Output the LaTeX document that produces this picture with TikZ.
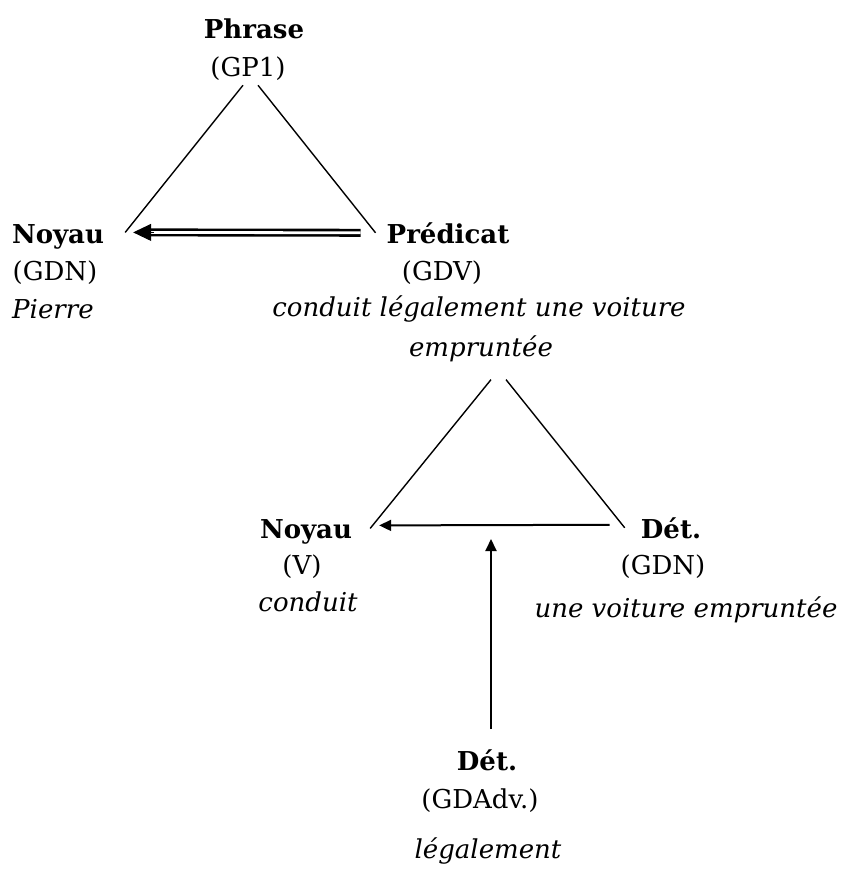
\documentclass[tikz,border=0pt]{standalone}
\usepackage{fontspec}
\setmainfont{DejaVu Serif}
\usetikzlibrary{arrows.meta}

\tikzset{
  lbl/.style={inner sep=0pt, anchor=base, font=\fontsize{26}{31}\selectfont},
  head/.style={lbl, font=\fontsize{26}{31}\selectfont\bfseries},
  ex/.style={lbl, font=\fontsize{26}{31}\selectfont\itshape},
  edge/.style={line width=1.4pt},
  rail/.style={double, double distance=2.8pt, line width=2.6pt},
  tip/.style={line width=1pt, -{Triangle[length=18pt,width=17pt]}},
  dep/.style={line width=2pt, -{Triangle[length=12pt,width=11pt]}}
}

\begin{document}
\begin{tikzpicture}
  [x=1pt, y=-1pt]
  \useasboundingbox (0,0) rectangle (847,869);
  % top level
  \node[head] (phrase) at (254,39) {Phrase};
  \node[lbl]  (gp) at (248,77) {(GP1)};
  \node[head] (noyau) at (58,243) {Noyau};
  \node[lbl]  (gdn) at (55,280) {(GDN)};
  \node[ex, anchor=base west] (pierre) at (12,318) {Pierre};
  \node[head] (predicat) at (448,243) {Prédicat};
  \node[lbl]  (gdv) at (442,280) {(GDV)};
  \node[ex]   (cgdv) at (479,316) {conduit légalement une voiture};
  \node[ex]   (cgdvb) at (481,356) {empruntée};
  % second level
  \node[head] (noyauv) at (306,538) {Noyau};
  \node[lbl]  (v) at (302,574) {(V)};
  \node[ex]   (conduit) at (308,611) {conduit};
  \node[head] (det) at (671,538) {Dét.};
  \node[lbl]  (gdn2) at (663,574) {(GDN)};
  \node[ex]   (voiture) at (686,617) {une voiture empruntée};
  \node[head] (detadv) at (487,770) {Dét.};
  \node[lbl]  (gdadv) at (480,808) {(GDAdv.)};
  \node[ex]   (legal) at (488,858) {légalement};
  \coordinate (mid) at (491,539);
  % triangles
  \draw[edge] ([xshift=-5pt,yshift=-4pt]gp.south) -- ([xshift=21pt,yshift=4pt]noyau.east);
  \draw[edge] ([xshift=10pt,yshift=-4pt]gp.south) -- ([xshift=-11pt]predicat.west);
  \draw[edge] ([xshift=10pt,yshift=-18pt]cgdvb.south) -- ([xshift=18pt,yshift=3pt]noyauv.east);
  \draw[edge] ([xshift=25pt,yshift=-18pt]cgdvb.south) -- ([xshift=-16pt]det.west);
  % dependencies
  \draw[rail] ([xshift=-26pt]predicat.west) -- ([xshift=44pt,yshift=4pt]noyau.east);
  \draw[tip] ([xshift=50pt,yshift=4pt]noyau.east) -- ([xshift=29pt,yshift=4pt]noyau.east);
  \draw[dep] ([xshift=-31pt,yshift=3pt]det.west) -- ([xshift=27pt,yshift=6pt]noyauv.east);
  \draw[dep] ([xshift=4pt,yshift=20pt]detadv.north) -- (mid);
\end{tikzpicture}
\end{document}
